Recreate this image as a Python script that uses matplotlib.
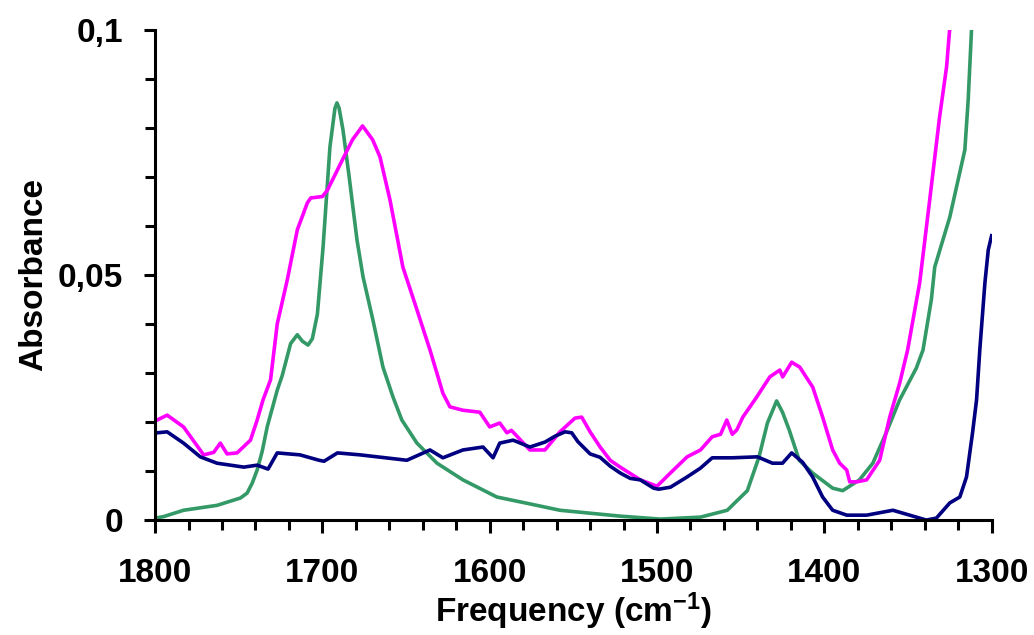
import matplotlib.pyplot as plt
from matplotlib.ticker import MultipleLocator, FuncFormatter

plt.rcParams['font.family'] = ['Liberation Sans', 'DejaVu Sans']
plt.rcParams['font.weight'] = 'bold'
plt.rcParams['mathtext.fontset'] = 'custom'
plt.rcParams['mathtext.rm'] = 'Liberation Sans:bold'
plt.rcParams['mathtext.default'] = 'regular'

# Green spectrum
f_green = [1800, 1795, 1783, 1763, 1749, 1745, 1742, 1739, 1736, 1733, 1727,
           1724, 1719, 1715, 1712, 1708.6, 1706, 1703, 1699.6, 1695.5, 1692.5,
           1691.3, 1690, 1687.7, 1684, 1682.3, 1679.3, 1675.7, 1669.8, 1663.8,
           1657.8, 1652.5, 1643.5, 1631.5, 1616, 1595.7, 1576, 1558, 1546,
           1522, 1498, 1474, 1458, 1446, 1439, 1434, 1428.5, 1425, 1421, 1415,
           1407, 1395, 1389, 1379, 1371, 1363, 1355, 1345, 1341, 1336, 1334,
           1325, 1316, 1314, 1312, 1310]
a_green = [0.0004, 0.0007, 0.002, 0.003, 0.0045, 0.0055, 0.0075, 0.0102, 0.014,
           0.019, 0.0265, 0.0295, 0.036, 0.0378, 0.0365, 0.0357, 0.037, 0.042,
           0.0557, 0.0761, 0.084, 0.0851, 0.084, 0.0796, 0.070, 0.0653, 0.0571,
           0.0496, 0.0408, 0.0312, 0.0251, 0.0204, 0.0157, 0.0116, 0.0082,
           0.0047, 0.0033, 0.002, 0.0016, 0.0008, 0.0002, 0.0006, 0.002, 0.006,
           0.0129, 0.0198, 0.0243, 0.022, 0.0184, 0.0122, 0.0096, 0.0065,
           0.006, 0.0082, 0.0116, 0.0178, 0.0245, 0.031, 0.0347, 0.045, 0.0516,
           0.0618, 0.0755, 0.0857, 0.1, 0.12]

# Magenta spectrum
f_mag = [1798.8, 1792.8, 1783, 1771, 1765, 1761, 1757, 1751, 1743, 1739,
         1735.5, 1731, 1727, 1721, 1715, 1709, 1707, 1700, 1697, 1688, 1682,
         1676, 1670, 1665.6, 1659.6, 1651.9, 1643.5, 1635.7, 1628, 1623.8,
         1616, 1605.9, 1600, 1594, 1589.7, 1587, 1576, 1567, 1558, 1549, 1545,
         1540, 1534, 1528, 1522, 1510, 1500, 1492, 1482, 1474, 1467, 1462,
         1458.3, 1455, 1452.3, 1448.7, 1440.4, 1432.6, 1426.6, 1424.9, 1419.5,
         1414.7, 1406.9, 1401, 1395, 1390.8, 1386.6, 1384.8, 1380.6, 1374.7,
         1366.9, 1360.9, 1354.9, 1350.2, 1343, 1337, 1331.1, 1326.9, 1325.1,
         1323]
a_mag = [0.0204, 0.0214, 0.019, 0.0133, 0.0138, 0.0157, 0.0135, 0.0137,
         0.0163, 0.0204, 0.0245, 0.0286, 0.040, 0.049, 0.0592, 0.0647, 0.0657,
         0.066, 0.0673, 0.0735, 0.0776, 0.0804, 0.0776, 0.0741, 0.0653, 0.0516,
         0.0429, 0.0347, 0.0259, 0.0231, 0.0224, 0.022, 0.019, 0.0198, 0.0178,
         0.0183, 0.0143, 0.0143, 0.018, 0.0208, 0.021, 0.018, 0.0149, 0.0122,
         0.0108, 0.0082, 0.0069, 0.0096, 0.0129, 0.0143, 0.017, 0.0175, 0.0204,
         0.0175, 0.0184, 0.021, 0.0251, 0.0292, 0.0306, 0.0292, 0.0322, 0.0312,
         0.0271, 0.021, 0.0143, 0.0116, 0.0102, 0.0078, 0.0078, 0.0082, 0.0122,
         0.021, 0.028, 0.0347, 0.0484, 0.0653, 0.0822, 0.0925, 0.1, 0.11]

# Navy spectrum
f_navy = [1798.8, 1792.8, 1783, 1773, 1763, 1747, 1739, 1732.5, 1727, 1713.4,
          1702, 1699, 1691, 1677.5, 1649.5, 1635.7, 1628, 1616, 1604, 1598,
          1594, 1586, 1576, 1567, 1561, 1555, 1551, 1547.3, 1540, 1534, 1528,
          1522, 1516, 1510, 1502, 1499, 1492, 1482, 1474, 1467, 1455, 1440,
          1431, 1425, 1419.5, 1413, 1407, 1401, 1395, 1386.6, 1374.7, 1359,
          1349, 1339, 1333, 1325, 1319, 1315, 1311.4, 1309, 1307, 1304, 1302,
          1300]
a_navy = [0.0178, 0.018, 0.0157, 0.0129, 0.0116, 0.0108, 0.0112, 0.0104,
          0.0137, 0.0133, 0.0122, 0.012, 0.0137, 0.0133, 0.0122, 0.0143,
          0.0127, 0.0143, 0.0149, 0.0127, 0.0157, 0.0163, 0.0149, 0.0159,
          0.0171, 0.018, 0.0178, 0.016, 0.0135, 0.0128, 0.011, 0.0096, 0.0085,
          0.0082, 0.0065, 0.0063, 0.0067, 0.0088, 0.0106, 0.0127, 0.0127,
          0.0129, 0.0116, 0.0116, 0.0137, 0.0118, 0.0088, 0.0047, 0.002, 0.001,
          0.001, 0.002, 0.001, 0.0, 0.0004, 0.0035, 0.0047, 0.0088, 0.0178,
          0.0245, 0.035, 0.0484, 0.0551, 0.058]

fig = plt.figure(figsize=(10.34, 6.35), dpi=100)
ax = fig.add_axes([0.15, 0.181, 0.809, 0.772])

ax.plot(f_green, a_green, color='#339966', lw=2.6)
ax.plot(f_mag, a_mag, color='#FF00FF', lw=2.6)
ax.plot(f_navy, a_navy, color='#000080', lw=2.6)

ax.set_xlim(1800, 1300)
ax.set_ylim(0, 0.1)

for s in ['top', 'right']:
    ax.spines[s].set_visible(False)
for s in ['left', 'bottom']:
    ax.spines[s].set_linewidth(2.2)

ax.xaxis.set_major_locator(MultipleLocator(100))
ax.xaxis.set_minor_locator(MultipleLocator(20))
ax.yaxis.set_major_locator(MultipleLocator(0.05))
ax.yaxis.set_minor_locator(MultipleLocator(0.01))
ax.yaxis.set_major_formatter(FuncFormatter(
    lambda v, p: '0' if abs(v) < 1e-9 else ('%g' % v).replace('.', ',')))

ax.tick_params(axis='y', which='major', direction='out', length=8,
               width=2.2, labelsize=24, pad=15)
ax.tick_params(axis='both', which='minor', direction='out', length=7,
               width=2.2)
ax.tick_params(axis='x', which='major', direction='out', length=9,
               width=2.2, labelsize=24, pad=18)

ax.set_xlabel('Frequency (cm$^{-1}$)', fontsize=24, fontweight='bold')
ax.set_ylabel('Absorbance', fontsize=24, fontweight='bold')
ax.xaxis.set_label_coords(0.5, -0.143)
ax.yaxis.set_label_coords(-0.127, 0.5)

fig.savefig('out.png', dpi=100)
